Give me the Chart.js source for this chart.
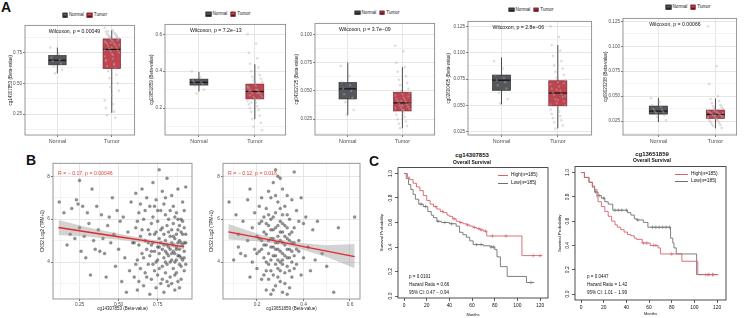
<!DOCTYPE html>
<html>
<head>
<meta charset="utf-8">
<script src="https://cdn.jsdelivr.net/npm/chart.js@4.4.1/dist/chart.umd.min.js"></script>
<style>
body{margin:0;background:#fff;}
#wrap{position:relative;width:753px;height:318px;overflow:hidden;font-family:"Liberation Sans",Arial,sans-serif;color:#111;}
canvas{position:absolute;}
.t{position:absolute;white-space:nowrap;line-height:1;}
.leg{display:flex;align-items:center;font-size:4.6px;color:#222;}
.key{display:inline-block;width:5.5px;height:4.5px;border:0.5px solid;margin-right:1.5px;position:relative;box-sizing:border-box;}
.key::after{content:'';position:absolute;left:0;right:0;top:1.7px;border-top:0.6px solid #111;}
.kl{position:absolute;height:0;border-top:0.9px solid;}
</style>
</head>
<body>
<div id="wrap"></div>
<script>
Chart.defaults.font.family = '"Liberation Sans", Arial, sans-serif';
Chart.defaults.animation = false;
Chart.defaults.plugins.legend.display = false;
Chart.defaults.plugins.tooltip.enabled = false;

const groups = ['Normal','Tumor'];
const boxFill = ['#55575c','#bf4450'];
const boxEdge = ['#2e2e30','#7a2630'];

// ---- panel A: box stats [lower whisker, q1, median, q3, upper whisker]
const a1Normal = [0.58,0.65,0.687,0.725,0.79];
const a1Tumor  = [0.26,0.62,0.775,0.86,0.93];
const a1NormalPts = [0.79,0.74,0.71,0.69,0.68,0.66,0.64,0.61,0.58];
const a1TumorPts = [0.95,0.93,0.92,0.91,0.9,0.9,0.89,0.88,0.88,0.87,0.86,0.86,0.85,0.84,0.84,0.83,0.82,0.82,0.81,0.8,0.79,0.78,0.77,0.76,0.75,0.74,0.72,0.7,0.68,0.66,0.64,0.62,0.6,0.57,0.54,0.5,0.47,0.44,0.4,0.36,0.33,0.3,0.27,0.24,0.22,0.92,0.89,0.87,0.85,0.83,0.81,0.79,0.77,0.73,0.69,0.65];
const a1Ticks = [0.25,0.5,0.75];
const a1TickLabels = ['0.25','0.50','0.75'];

const a2Normal = [0.29,0.325,0.34,0.357,0.396];
const a2Tumor  = [0.14,0.25,0.29,0.33,0.438];
const a2NormalPts = [0.4,0.37,0.35,0.34,0.34,0.33,0.32,0.3,0.28];
const a2TumorPts = [0.6,0.55,0.5,0.47,0.44,0.42,0.4,0.38,0.37,0.36,0.35,0.34,0.33,0.32,0.32,0.31,0.3,0.3,0.29,0.29,0.28,0.28,0.27,0.26,0.26,0.25,0.24,0.23,0.22,0.21,0.2,0.19,0.18,0.16,0.14,0.12,0.1,0.08,0.34,0.31,0.3,0.29,0.28,0.27,0.25,0.23];
const a2Ticks = [0.2,0.4,0.6];
const a2TickLabels = ['0.2','0.4','0.6'];

const a3Normal = [0.0285,0.0429,0.0518,0.0573,0.075];
const a3Tumor  = [0.017,0.0323,0.0394,0.0488,0.071];
const a3NormalPts = [0.072,0.063,0.058,0.055,0.052,0.05,0.047,0.044,0.04,0.033,0.029];
const a3TumorPts = [0.09,0.085,0.075,0.071,0.067,0.063,0.06,0.057,0.055,0.052,0.05,0.048,0.047,0.046,0.044,0.043,0.042,0.041,0.04,0.039,0.038,0.037,0.036,0.035,0.034,0.033,0.032,0.03,0.029,0.027,0.025,0.023,0.021,0.019,0.017,0.045,0.041,0.039,0.037,0.035,0.033];
const a3Ticks = [0.025,0.05,0.075,0.1];
const a3TickLabels = ['0.025','0.050','0.075','0.100'];

const a4Normal = [0.051,0.0644,0.074,0.0788,0.0955];
const a4Tumor  = [0.0283,0.0497,0.0618,0.0734,0.1073];
const a4NormalPts = [0.092,0.085,0.079,0.076,0.074,0.072,0.069,0.066,0.062,0.056,0.052];
const a4TumorPts = [0.125,0.115,0.107,0.102,0.097,0.092,0.088,0.085,0.082,0.079,0.076,0.074,0.072,0.07,0.068,0.066,0.064,0.062,0.061,0.06,0.058,0.056,0.054,0.052,0.05,0.048,0.046,0.044,0.042,0.04,0.038,0.036,0.034,0.031,0.028,0.071,0.065,0.059,0.055,0.051];
const a4Ticks = [0.025,0.05,0.075,0.1,0.125];
const a4TickLabels = ['0.025','0.050','0.075','0.100','0.125'];

const a5Normal = [0.024,0.032,0.035,0.04,0.0483];
const a5Tumor  = [0.0177,0.0277,0.0317,0.036,0.0477];
const a5NormalPts = [0.048,0.044,0.041,0.039,0.037,0.036,0.035,0.034,0.033,0.031,0.029,0.026];
const a5TumorPts = [0.12,0.08,0.062,0.05,0.047,0.045,0.043,0.041,0.04,0.039,0.038,0.037,0.036,0.035,0.034,0.034,0.033,0.033,0.032,0.032,0.031,0.031,0.03,0.03,0.029,0.028,0.028,0.027,0.026,0.025,0.024,0.023,0.022,0.021,0.02,0.018,0.035,0.033,0.031,0.029,0.027];
const a5Ticks = [0.025,0.05,0.075,0.1,0.125];
const a5TickLabels = ['0.025','0.050','0.075','0.100','0.125'];

// ---- panel B: correlation scatter [beta, CKS2]
const b1Points = [[0.12,6.8],[0.15,6.3],[0.17,4.8],[0.19,5.3],[0.2,6.5],[0.22,5.1],[0.23,6.9],[0.24,6.7],[0.25,7.8],[0.25,5.6],[0.26,4.5],[0.27,6.6],[0.28,5.2],[0.29,4.2],[0.3,6.3],[0.31,5.8],[0.32,3.4],[0.33,7.4],[0.34,5.0],[0.35,4.6],[0.36,6.6],[0.37,5.5],[0.38,4.5],[0.39,6.2],[0.4,5.1],[0.41,4.4],[0.42,3.3],[0.43,5.7],[0.44,6.1],[0.45,4.9],[0.46,7.0],[0.47,5.3],[0.48,3.8],[0.49,6.4],[0.5,4.6],[0.51,5.9],[0.52,3.1],[0.53,6.1],[0.54,4.2],[0.55,2.6],[0.56,5.4],[0.57,3.6],[0.58,6.8],[0.59,4.9],
[0.6,3.3],[0.61,5.6],[0.61,7.2],[0.62,4.1],[0.62,2.7],[0.63,6.3],[0.63,4.8],[0.64,3.7],[0.64,5.2],[0.65,7.4],[0.65,4.4],[0.66,2.9],[0.66,6.0],[0.67,5.0],[0.67,3.5],[0.68,4.6],[0.68,7.0],[0.69,3.9],[0.69,5.5],[0.7,2.5],[0.7,6.6],[0.7,4.3],[0.71,5.8],[0.71,3.2],[0.72,4.9],[0.72,7.7],[0.72,6.1],[0.73,3.6],[0.73,5.3],[0.74,4.0],[0.74,2.8],[0.74,6.9],[0.75,4.7],[0.75,5.9],[0.75,3.4],[0.76,8.3],[0.76,4.4],[0.76,5.1],[0.77,6.4],[0.77,3.0],[0.77,4.9],[0.78,7.3],[0.78,3.8],[0.78,5.6],[0.79,4.2],[0.79,6.7],[0.79,2.6],[0.8,5.0],[0.8,4.5],[0.8,3.5],[0.8,6.2],[0.81,7.9],[0.81,4.8],[0.81,3.9],[0.82,5.4],[0.82,4.3],[0.82,2.9],[0.82,6.0],[0.83,4.6],[0.83,5.2],[0.83,3.3],[0.84,7.1],[0.84,4.9],[0.84,4.1],[0.85,5.8],[0.85,3.7],[0.85,4.5],[0.85,6.6],[0.86,4.0],[0.86,5.1],[0.86,2.7],[0.87,4.7],[0.87,6.3],[0.87,3.5],[0.88,5.5],[0.88,4.3],[0.88,4.9],[0.88,7.4],[0.89,3.9],[0.89,5.0],[0.89,4.6],[0.9,6.0],[0.9,4.2],[0.9,3.2],[0.91,5.3],[0.91,4.8],[0.91,6.8],[0.92,4.5],[0.92,5.6],[0.92,3.6],[0.93,7.5],[0.93,4.9],
[0.6,4.9],[0.61,3.9],[0.62,5.9],[0.63,3.1],[0.64,6.7],[0.65,5.5],[0.66,4.2],[0.67,6.4],[0.68,3.3],[0.69,4.9],[0.7,5.3],[0.71,4.5],[0.72,3.9],[0.73,6.6],[0.73,4.5],[0.74,5.4],[0.75,4.1],[0.75,6.4],[0.76,3.7],[0.77,5.5],[0.78,4.6],[0.78,3.2],[0.79,5.3],[0.8,4.0],[0.8,7.0],[0.81,5.7],[0.81,3.1],[0.82,4.7],[0.83,6.4],[0.83,4.0],[0.84,5.5],[0.84,3.0],[0.85,4.8],[0.85,5.2],[0.86,6.1],[0.86,4.4],[0.86,3.4],[0.87,5.3],[0.87,4.1],[0.88,3.1],[0.88,6.0],[0.89,4.3],[0.89,5.7],[0.89,2.8],[0.9,4.9],[0.9,5.4],[0.9,3.8],[0.91,4.1],[0.91,5.9],[0.92,4.2],[0.92,4.9],[0.92,6.4],[0.93,3.9],[0.93,5.3],[0.87,4.6],[0.84,4.4],[0.81,4.4],[0.79,4.8],[0.76,4.7],[0.71,4.8]];
const b1FitX = [0.115,0.3,0.5,0.7,0.92];
const b1Fit = [5.61,5.40,5.18,4.96,4.71];
const b1Upper = [5.96,5.62,5.32,5.05,4.85];
const b1Lower = [5.26,5.18,5.04,4.87,4.58];
const b1Ticks = [0.25,0.5,0.75];
const b1TickLabels = ['0.25','0.50','0.75'];

const b2Points = [[0.08,6.8],[0.1,4.1],[0.11,6.2],[0.12,4.7],[0.12,5.3],[0.13,4.4],[0.14,5.9],[0.15,4.3],[0.16,6.9],[0.16,5.0],[0.17,3.3],[0.17,7.4],[0.18,5.6],[0.18,4.0],[0.19,6.3],[0.19,4.6],
[0.2,5.2],[0.2,3.7],[0.21,6.6],[0.21,4.5],[0.21,5.8],[0.22,3.2],[0.22,5.0],[0.22,7.0],[0.23,4.2],[0.23,6.1],[0.23,5.4],[0.24,3.6],[0.24,4.8],[0.24,6.5],[0.24,2.7],[0.25,5.7],[0.25,4.4],[0.25,7.3],[0.25,3.9],[0.26,5.1],[0.26,6.0],[0.26,4.1],[0.26,2.5],[0.27,4.7],[0.27,5.5],[0.27,7.7],[0.27,3.4],[0.28,6.3],[0.28,4.9],[0.28,4.3],[0.28,2.9],[0.28,8.3],[0.29,5.2],[0.29,3.7],[0.29,6.8],[0.29,4.6],[0.3,5.9],[0.3,4.0],[0.3,5.0],[0.3,3.1],[0.3,7.9],[0.31,4.4],[0.31,6.2],[0.31,5.4],[0.31,2.6],[0.32,4.8],[0.32,3.5],[0.32,6.6],[0.32,5.7],[0.33,4.2],[0.33,5.1],[0.33,7.1],[0.33,3.8],[0.34,4.6],[0.34,6.0],[0.34,2.8],[0.34,5.3],[0.35,4.0],[0.35,6.9],[0.35,4.9],[0.35,3.3],[0.36,5.6],[0.36,8.2],[0.36,4.3],
[0.37,6.4],[0.37,3.9],[0.38,5.0],[0.38,4.5],[0.39,7.0],[0.39,3.4],[0.4,5.8],[0.4,4.2],[0.41,6.1],[0.42,4.7],[0.43,3.6],[0.44,5.5],[0.45,4.1],[0.46,5.9],[0.48,4.4],[0.5,3.8],[0.53,2.6],[0.55,5.6],[0.62,6.1],
[0.2,4.4],[0.21,5.1],[0.22,4.6],[0.22,5.9],[0.23,3.4],[0.23,4.8],[0.24,5.3],[0.24,4.0],[0.25,5.0],[0.25,6.2],[0.25,3.2],[0.26,4.7],[0.26,5.5],[0.26,3.6],[0.27,4.3],[0.27,6.1],[0.27,5.1],[0.28,3.9],[0.28,5.6],[0.28,4.6],[0.28,7.1],[0.29,4.1],[0.29,5.7],[0.29,3.3],[0.29,4.9],[0.3,4.5],[0.3,5.4],[0.3,6.5],[0.3,3.6],[0.31,4.9],[0.31,3.9],[0.31,5.8],[0.31,4.1],[0.32,4.3],[0.32,5.2],[0.32,3.0],[0.33,4.6],[0.33,5.6],[0.33,6.2],[0.34,4.2],[0.34,5.0],[0.34,3.6],[0.35,4.5],[0.35,5.4],[0.36,3.7],[0.36,4.9],[0.37,4.6],[0.38,5.9],[0.24,5.8],[0.27,2.7],[0.31,7.4],[0.29,8.0],[0.26,7.0],[0.33,2.5]];
const b2FitX = [0.077,0.2,0.3,0.4,0.5,0.62];
const b2Fit = [5.41,5.15,4.94,4.72,4.51,4.25];
const b2Upper = [5.77,5.33,5.04,4.88,4.78,4.84];
const b2Lower = [5.05,4.97,4.84,4.56,4.24,3.71];
const b2Ticks = [0.2,0.4,0.6];
const b2TickLabels = ['0.2','0.4','0.6'];

const bYTicks = [4,6,8];
const bYTickLabels = ['4','6','8'];

// ---- panel C: Kaplan-Meier [months, survival]
const km1High = [[0,1],[3,0.97],[5,0.95],[8,0.92],[11,0.89],[14,0.86],[17,0.82],[20,0.78],[23,0.75],[26,0.73],[29,0.71],[32,0.69],[35,0.68],[38,0.66],[40,0.65],[43,0.63],[46,0.61],[49,0.6],[52,0.59],[55,0.58],[58,0.57],[61,0.56],[64,0.55],[67,0.54],[70,0.53],[73,0.49],[104,0.33],[122,0.33]];
const km1Low = [[0,1],[2,0.96],[4,0.91],[6,0.87],[8,0.83],[10,0.79],[13,0.75],[17,0.73],[21,0.69],[24,0.66],[26,0.64],[29,0.61],[33,0.6],[40,0.59],[46,0.57],[49,0.52],[52,0.5],[55,0.48],[58,0.45],[61,0.42],[70,0.41],[76,0.4],[80,0.38],[82,0.32],[85,0.24],[91,0.16],[108,0.11],[115,0.11]];
const km1HighCens = [28,34,44,50,56,62,66,68,72,78,90,114,120];
const km1LowCens = [15,19,30,36,42,64,68,77,79,112];

const km2High = [[0,1],[3,0.96],[7,0.92],[10,0.89],[12,0.86],[14,0.8],[15,0.76],[18,0.72],[21,0.68],[24,0.64],[27,0.6],[30,0.57],[32,0.55],[35,0.53],[38,0.51],[41,0.49],[44,0.48],[47,0.46],[49,0.45],[54,0.42],[61,0.4],[68,0.38],[70,0.33],[89,0.27],[103,0.16],[121,0.16]];
const km2Low = [[0,1],[3,0.96],[7,0.92],[10,0.88],[12,0.84],[15,0.81],[18,0.79],[21,0.76],[24,0.74],[28,0.69],[38,0.69],[41,0.67],[44,0.65],[47,0.62],[49,0.61],[55,0.59],[59,0.55],[79,0.46],[81,0.42],[82,0.38],[84,0.33],[102,0.16],[121,0.16]];
const km2HighCens = [55,58,64,66,80,110,113,117];
const km2LowCens = [13,16,20,30,33,36,40,50,63,66,69,72,75,78,112,116];

const kmXTicks = [0,20,40,60,80,100,120];
const kmXTickLabels = ['0','20','40','60','80','100','120'];
const kmYTicks = [0,0.2,0.4,0.6,0.8,1];
const kmYTickLabels = ['0.0','0.2','0.4','0.6','0.8','1.0'];
const kmRed = '#d6636b', kmGray = '#707070';

// ---------------------------------------------------------------
const wrap = document.getElementById('wrap');

function mkCanvas(L,T,R,B,yw,xh,padT,padR){
  const c = document.createElement('canvas');
  const w = R-L+yw+padR, h = B-T+padT+xh;
  c.width = w; c.height = h;
  c.style.left = (L-yw)+'px'; c.style.top = (T-padT)+'px';
  c.style.width = w+'px'; c.style.height = h+'px';
  wrap.appendChild(c);
  return c;
}

function put(text, x, y, o){
  o = o || {};
  const d = document.createElement('div');
  d.className = 't'; d.textContent = text;
  d.style.left = x+'px'; d.style.top = y+'px';
  d.style.fontSize = (o.size||5)+'px';
  if (o.bold) d.style.fontWeight = 'bold';
  if (o.color) d.style.color = o.color;
  d.style.transform = 'translate(' + (o.center?'-50%':'0') + ',-50%)';
  wrap.appendChild(d);
  return d;
}

function withMinors(majors, min, max){
  const half = (majors[1]-majors[0])/2;
  let v = majors[0];
  while (v-half >= min) v -= half;
  const out = [];
  for (; v <= max+1e-9; v += half) out.push(Math.round(v*1e6)/1e6);
  return out;
}

function ggAxis(o){
  const all = o.noMinor ? o.ticks.slice() : withMinors(o.ticks, o.min, o.max);
  const major = v => o.ticks.findIndex(m => Math.abs(m-v) < 1e-9);
  return {
    type:'linear', min:o.min, max:o.max,
    afterBuildTicks: s => { s.ticks = all.map(v => ({value:v})); },
    afterFit: s => { if (o.isX) s.height = o.size; else s.width = o.size; },
    ticks:{ autoSkip:false, maxRotation:0, minRotation:0, padding:1, color:'#4d4d4d',
      font:{size:o.font||4.7}, callback: v => { const k = major(v); return k<0 ? '' : o.labels[k]; } },
    grid:{ lineWidth:0.8, tickLength:2,
      color: c => (c.tick && major(c.tick.value) >= 0) ? '#e0e0e0' : '#f0f0f0',
      tickColor: c => (c.tick && major(c.tick.value) >= 0) ? '#555' : 'rgba(0,0,0,0)' },
    border:{display:false},
    title: o.title ? {display:true, text:o.title, color:'#222', font:{size:o.titleFont||5},
      padding:{top:o.titlePad||0, bottom:o.titlePad||0}} : {display:false}
  };
}

function frame(ch, color, w){
  const a = ch.chartArea, ctx = ch.ctx;
  ctx.save(); ctx.strokeStyle = color; ctx.lineWidth = w;
  ctx.strokeRect(a.left, a.top, a.right-a.left, a.bottom-a.top);
  ctx.restore();
}

// ---------------- panel A
function boxPanel(p){
  const xh = 10, padT = 4, padR = 4, half = 0.16;
  const c = mkCanvas(p.L,p.T,p.R,p.B,p.yw,xh,padT,padR);
  const jit = i => (((i*7)%13)-6)/6*0.13;
  const sets = p.pts.map((arr,g) => ({
    data: arr.map((v,i) => ({x:g+1+jit(i), y:v})),
    pointRadius:1, pointBorderWidth:0.4,
    backgroundColor:'rgba(200,200,200,0.35)', borderColor:'rgba(150,150,150,0.55)'
  }));
  new Chart(c, {
    type:'scatter',
    data:{datasets:sets},
    options:{
      responsive:false,
      layout:{padding:{top:padT,right:padR,left:0,bottom:0}},
      scales:{
        x: ggAxis({min:p.xMin, max:p.xMax, ticks:[1,2], labels:groups, isX:true, size:xh, noMinor:true, font:5.4}),
        y: ggAxis({min:p.yMin, max:p.yMax, ticks:p.ticks, labels:p.labels, size:p.yw, font:4.6, title:p.title, titlePad:p.titlePad, titleFont:4.5})
      }
    },
    plugins:[{
      id:'boxes',
      beforeDatasetsDraw(ch){
        const ctx = ch.ctx, xs = ch.scales.x, ys = ch.scales.y;
        p.stats.forEach((s,g) => {
          const cx = xs.getPixelForValue(g+1);
          const hw = xs.getPixelForValue(g+1+half) - cx;
          const py = s.map(v => ys.getPixelForValue(v));
          ctx.save();
          ctx.strokeStyle = '#3a3a3a'; ctx.lineWidth = 0.9;
          ctx.beginPath();
          ctx.moveTo(cx,py[0]); ctx.lineTo(cx,py[1]);
          ctx.moveTo(cx,py[3]); ctx.lineTo(cx,py[4]);
          ctx.stroke();
          ctx.fillStyle = boxFill[g];
          ctx.fillRect(cx-hw, py[3], 2*hw, py[1]-py[3]);
          ctx.strokeStyle = boxEdge[g]; ctx.lineWidth = 0.7;
          ctx.strokeRect(cx-hw, py[3], 2*hw, py[1]-py[3]);
          ctx.strokeStyle = '#111'; ctx.lineWidth = 1.2;
          ctx.beginPath(); ctx.moveTo(cx-hw,py[2]); ctx.lineTo(cx+hw,py[2]); ctx.stroke();
          ctx.restore();
        });
      },
      afterDraw(ch){
        frame(ch, '#8c8c8c', 0.9);
        const ctx = ch.ctx;
        ctx.save();
        ctx.font = '5.2px "Liberation Sans"'; ctx.fillStyle = '#111';
        ctx.textBaseline = 'middle'; ctx.textAlign = 'left';
        ctx.fillText(p.ptext, ch.scales.x.getPixelForValue(1-half), ch.chartArea.top+6);
        ctx.restore();
      }
    }]
  });
  // legend
  const d = document.createElement('div');
  d.className = 't leg';
  d.style.left = p.legX+'px'; d.style.top = p.legY+'px';
  d.style.transform = 'translate(-50%,-50%)';
  groups.forEach((g,i) => {
    const k = document.createElement('span');
    k.className = 'key'; k.style.background = boxFill[i]; k.style.borderColor = boxEdge[i];
    d.appendChild(k);
    const s = document.createElement('span');
    s.textContent = g; if (i === 0) s.style.marginRight = '3px';
    d.appendChild(s);
  });
  wrap.appendChild(d);
}

boxPanel({L:25,T:25,R:135,B:135,yw:25,xMin:0.404,xMax:2.42,yMin:0.08,yMax:0.97,
  ticks:a1Ticks,labels:a1TickLabels,stats:[a1Normal,a1Tumor],pts:[a1NormalPts,a1TumorPts],
  title:'cg14307853 (Beta-value)',titlePad:8,ptext:'Wilcoxon, p = 0.00049',legX:84.5,legY:15});
boxPanel({L:165,T:24,R:286,B:135,yw:18,xMin:0.393,xMax:2.55,yMin:0.054,yMax:0.654,
  ticks:a2Ticks,labels:a2TickLabels,stats:[a2Normal,a2Tumor],pts:[a2NormalPts,a2TumorPts],
  title:'cg13651859 (Beta-value)',titlePad:2.5,ptext:'Wilcoxon, p = 7.2e\u221213',legX:228,legY:14});
boxPanel({L:315,T:23,R:435,B:135,yw:22,xMin:0.40,xMax:2.59,yMin:0.011,yMax:0.1097,
  ticks:a3Ticks,labels:a3TickLabels,stats:[a3Normal,a3Tumor],pts:[a3NormalPts,a3TumorPts],
  title:'cg04302725 (Beta-value)',titlePad:1.2,ptext:'Wilcoxon, p = 3.7e\u221209',legX:377,legY:12.7});
boxPanel({L:468,T:21,R:592,B:135,yw:23,xMin:0.405,xMax:2.6,yMin:0.022,yMax:0.1297,
  ticks:a4Ticks,labels:a4TickLabels,stats:[a4Normal,a4Tumor],pts:[a4NormalPts,a4TumorPts],
  title:'cg02600435 (Beta-value)',titlePad:1.4,ptext:'Wilcoxon, p = 2.8e\u221206',legX:531,legY:9.5});
boxPanel({L:623,T:18,R:737,B:135,yw:22,xMin:0.38,xMax:2.37,yMin:0.011,yMax:0.128,
  ticks:a5Ticks,labels:a5TickLabels,stats:[a5Normal,a5Tumor],pts:[a5NormalPts,a5TumorPts],
  title:'cg09023238 (Beta-value)',titlePad:1.6,ptext:'Wilcoxon, p = 0.00066',legX:688,legY:7});

// ---------------- panel B
function scatterPanel(p){
  const xh = 14, padT = 4, padR = 5;
  const c = mkCanvas(p.L,p.T,p.R,p.B,p.yw,xh,padT,padR);
  const xy = (xs, ys) => xs.map((x,i) => ({x:x, y:ys[i]}));
  new Chart(c, {
    type:'scatter',
    data:{datasets:[
      {type:'line', data:xy(p.fitX,p.fit), borderColor:'#e3282c', borderWidth:1.3, pointRadius:0, showLine:true, fill:false, order:0},
      {type:'line', data:xy(p.fitX,p.upper), borderWidth:0, borderColor:'rgba(0,0,0,0)', pointRadius:0, showLine:true, fill:'+1', backgroundColor:'rgba(150,150,150,0.42)', order:1},
      {type:'line', data:xy(p.fitX,p.lower), borderWidth:0, borderColor:'rgba(0,0,0,0)', pointRadius:0, showLine:true, fill:false, order:1},
      {data:p.points.map(([x,y]) => ({x:x,y:y})), pointRadius:1.5, pointBorderWidth:0.3,
        backgroundColor:'rgba(60,60,60,0.55)', borderColor:'rgba(30,30,30,0.6)', order:2}
    ]},
    options:{
      responsive:false,
      layout:{padding:{top:padT,right:padR,left:0,bottom:0}},
      scales:{
        x: ggAxis({min:p.xMin, max:p.xMax, ticks:p.xTicks, labels:p.xLabels, isX:true, size:xh, font:4.8, title:p.xTitle, titlePad:1.3, titleFont:4.5}),
        y: ggAxis({min:2.28, max:8.6, ticks:bYTicks, labels:bYTickLabels, size:p.yw, font:4.8, title:'CKS2 Log2 (TPM+1)', titlePad:2.3, titleFont:4.5})
      }
    },
    plugins:[{
      id:'rtext',
      afterDraw(ch){
        frame(ch, '#8c8c8c', 0.9);
        const ctx = ch.ctx;
        ctx.save();
        ctx.font = '5.2px "Liberation Sans"'; ctx.fillStyle = '#e5403a';
        ctx.textBaseline = 'middle';
        ctx.fillText(p.rtext, ch.chartArea.left+5, ch.chartArea.top+10);
        ctx.restore();
      }
    }]
  });
}

scatterPanel({L:53,T:163,R:192,B:299,yw:15,xMin:0.08,xMax:0.97,xTicks:b1Ticks,xLabels:b1TickLabels,
  points:b1Points,fitX:b1FitX,fit:b1Fit,upper:b1Upper,lower:b1Lower,
  xTitle:'cg14307853 (Beta-value)',rtext:'R = \u2212 0.17, p = 0.00046'});
scatterPanel({L:223,T:163,R:360,B:299,yw:16,xMin:0.054,xMax:0.643,xTicks:b2Ticks,xLabels:b2TickLabels,
  points:b2Points,fitX:b2FitX,fit:b2Fit,upper:b2Upper,lower:b2Lower,
  xTitle:'cg13651859 (Beta-value)',rtext:'R = \u2212 0.12, p = 0.016'});

// ---------------- panel C
function survAt(curve, t){
  let s = curve[0][1];
  curve.forEach(([x,y]) => { if (x <= t) s = y; });
  return s;
}

function kmAxis(o){
  return {
    type:'linear', min:o.min, max:o.max,
    afterBuildTicks: s => { s.ticks = o.ticks.map(v => ({value:v})); },
    afterFit: s => { if (o.isX) s.height = o.size; else s.width = o.size; },
    ticks:{ display:!!o.isX, autoSkip:false, maxRotation:0, minRotation:0, padding:2, color:'#111',
      font:{size:4.9}, callback: v => o.labels[o.ticks.indexOf(v)] },
    grid:{ color:'rgba(0,0,0,0)', tickColor:'#222', tickLength:3, lineWidth:0.7 },
    border:{display:false},
    title:{display:true, text:o.title, color:'#111', font:{size:o.titleFont},
      padding:{top:o.titlePad, bottom:o.titlePad}}
  };
}

function kmPanel(p){
  const padT = 3, padR = 6;
  const c = mkCanvas(p.L,p.T,p.R,p.B,p.yw,p.xh,padT,padR);
  const line = (curve,color) => ({type:'line', data:curve.map(([x,y]) => ({x:x,y:y})), stepped:true,
    showLine:true, borderColor:color, borderWidth:0.9, pointRadius:0, fill:false});
  const cens = (times,curve,color) => ({data:times.map(t => ({x:t, y:survAt(curve,t)})),
    pointStyle:'cross', pointRadius:1.8, pointBorderWidth:0.6, borderColor:color, backgroundColor:color});
  new Chart(c, {
    type:'scatter',
    data:{datasets:[
      line(p.high,kmRed), cens(p.highCens,p.high,kmRed),
      line(p.low,kmGray), cens(p.lowCens,p.low,kmGray)
    ]},
    options:{
      responsive:false,
      layout:{padding:{top:padT,right:padR,left:0,bottom:0}},
      scales:{
        x: kmAxis({min:-5.3, max:p.xMax, ticks:kmXTicks, labels:kmXTickLabels, isX:true, size:p.xh, title:'Months', titleFont:4, titlePad:p.mPad}),
        y: kmAxis({min:p.yMin, max:p.yMax, ticks:kmYTicks, labels:kmYTickLabels, size:p.yw, title:'Survival Probability', titleFont:4.4, titlePad:2.2})
      }
    },
    plugins:[{
      id:'kmdeco',
      afterDraw(ch){
        const ctx = ch.ctx, ys = ch.scales.y;
        ctx.save();
        ctx.font = '4.9px "Liberation Sans"'; ctx.fillStyle = '#111';
        ctx.textAlign = 'center'; ctx.textBaseline = 'bottom';
        kmYTicks.forEach((v,i) => {
          ctx.save();
          ctx.translate(ch.chartArea.left-4.5, ys.getPixelForValue(v));
          ctx.rotate(-Math.PI/2);
          ctx.fillText(kmYTickLabels[i], 0, 0);
          ctx.restore();
        });
        ctx.restore();
        frame(ch, '#222', 0.8);
      }
    }]
  });
  put(p.title, p.tx, p.ty, {size:6, bold:true, center:true});
  put('Overall Survival', p.tx, p.ty+6.5, {size:5, bold:true, center:true});
  [['High(n=185)',kmRed],['Low(n=185)',kmGray]].forEach(([t,col],i) => {
    const l = document.createElement('div');
    l.className = 'kl';
    l.style.left = p.lx+'px'; l.style.width = p.lw+'px'; l.style.top = (p.ly+i*7.5)+'px';
    l.style.borderTopColor = col;
    wrap.appendChild(l);
    put(t, p.lx+p.lw+3, p.ly+i*7.5, {size:4.8});
  });
  p.stats.forEach((t,i) => put(t, p.px, 277+i*8, {size:4.5}));
}

kmPanel({L:398,T:166,R:548,B:298,yw:21,xh:19,xMax:127,yMin:-0.016,yMax:1.048,mPad:0,
  high:km1High,low:km1Low,highCens:km1HighCens,lowCens:km1LowCens,
  title:'cg14307853',tx:472,ty:155,lx:498,lw:10,ly:175,px:409,
  stats:['p = 0.0191','Hazard Ratio = 0.66','95% CI: 0.47 \u2212 0.94']});
kmPanel({L:575,T:165,R:726,B:300,yw:20,xh:18,xMax:127.9,yMin:-0.049,yMax:1.049,mPad:1.6,
  high:km2High,low:km2Low,highCens:km2HighCens,lowCens:km2LowCens,
  title:'cg13651859',tx:652,ty:153.5,lx:675,lw:13,ly:173.5,px:587,
  stats:['p = 0.0447','Hazard Ratio = 1.42','95% CI: 1.01 \u2212 1.99']});

// panel letters
put('A', 1, 7, {size:14, bold:true});
put('B', 26, 160, {size:14, bold:true});
put('C', 369, 161, {size:14, bold:true});
</script>
</body>
</html>
